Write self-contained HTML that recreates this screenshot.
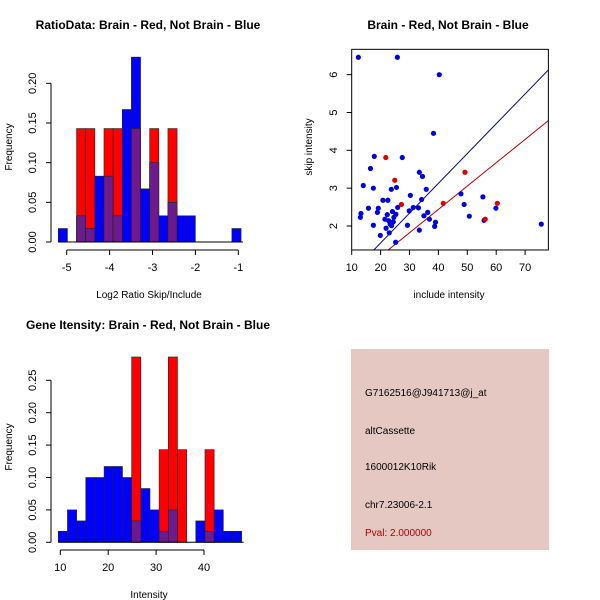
<!DOCTYPE html>
<html><head><meta charset="utf-8"><style>
body{margin:0;background:#fff;}
svg{display:block;font-family:"Liberation Sans",sans-serif;}
</style></head><body>
<svg id="c" width="600" height="600">
<rect width="600" height="600" fill="#fff"/>
<text x="148" y="29" text-anchor="middle" font-size="12" font-weight="bold">RatioData: Brain - Red, Not Brain - Blue</text>
<text x="448" y="29" text-anchor="middle" font-size="12" font-weight="bold">Brain - Red, Not Brain - Blue</text>
<text x="148" y="329" text-anchor="middle" font-size="12" font-weight="bold">Gene Itensity: Brain - Red, Not Brain - Blue</text>
<text x="149" y="298" text-anchor="middle" font-size="10">Log2 Ratio Skip/Include</text>
<text x="149" y="598" text-anchor="middle" font-size="10">Intensity</text>
<text x="449" y="298" text-anchor="middle" font-size="10">include intensity</text>
<text transform="translate(12,147) rotate(-90)" text-anchor="middle" font-size="10">Frequency</text>
<text transform="translate(12,447) rotate(-90)" text-anchor="middle" font-size="10">Frequency</text>
<text transform="translate(312,147) rotate(-90)" text-anchor="middle" font-size="10">skip intensity</text>
<g id="ratio"></g>
<g id="inten"></g>
<g id="scat"></g>
<rect x="351" y="349" width="198" height="201" fill="#e6c8c2"/>
<g font-size="10">
<text x="365" y="396">G7162516@J941713@j_at</text>
<text x="365" y="434">altCassette</text>
<text x="365" y="470">1600012K10Rik</text>
<text x="365" y="508">chr7.23006-2.1</text>
<text x="365" y="536" fill="#b00000">Pval: 2.000000</text>
</g>
</svg>
<script>
// Ratio histogram data
const ratioBreakStart = -5.196, ratioBinWidth = 0.213;
const ratioBlue = [0.017,0,0.033,0.017,0.083,0.083,0.033,0.167,0.233,0.067,0.1,0.033,0.05,0.033,0.033,0,0,0,0,0.017];
const ratioRed  = [0,0,0.143,0.143,0,0.143,0.143,0,0.143,0,0.143,0,0.143,0,0,0,0,0,0,0];
const ratioXTicks = [-5,-4,-3,-2,-1];
const ratioYTicks = [0,0.05,0.10,0.15,0.20];
const ratioYLabels = ["0.00","0.05","0.10","0.15","0.20"];
// Intensity histogram data
const intBreakStart = 9.58, intBinWidth = 1.914;
const intBlue = [0.017,0.05,0.033,0.1,0.1,0.117,0.117,0.1,0.033,0.083,0.05,0.017,0.05,0,0,0.033,0.017,0.05,0.017,0.017];
const intRed  = [0,0,0,0,0,0,0,0,0.286,0,0,0.143,0.286,0.143,0,0,0.143,0,0,0];
const intXTicks = [10,20,30,40];
const intYTicks = [0,0.05,0.10,0.15,0.20,0.25];
const intYLabels = ["0.00","0.05","0.10","0.15","0.20","0.25"];
// Scatter data
const blueX = [12.3,25.8,40.3,38.3,17.8,27.5,16.5,14.0,17.5,23.7,25.5,33.4,34.5,35.8,30.3,20.8,22.5,34.2,15.8,19.2,18.9,13.2,13.0,25.9,31.3,33.1,29.9,24.1,22.3,25.3,35.0,36.3,24.6,21.5,22.8,24.4,23.3,21.9,23.8,23.0,19.9,17.5,29.3,36.9,33.4,25.2,39.0,38.7,47.8,48.9,50.7,55.4,55.8,59.9,75.6];
const blueY = [6.46,6.46,6.0,4.45,3.84,3.81,3.52,3.07,3.0,2.97,3.02,3.42,3.31,2.97,2.81,2.68,2.68,2.70,2.47,2.47,2.36,2.33,2.23,2.49,2.49,2.48,2.40,2.38,2.30,2.31,2.27,2.36,2.23,2.18,2.14,2.11,2.05,1.94,2.01,1.82,1.75,2.02,2.02,2.18,1.89,1.57,2.10,1.99,2.85,2.57,2.26,2.77,2.15,2.47,2.05];
const redX = [21.8,24.9,27.2,41.7,49.2,56.2,60.4];
const redY = [3.81,3.21,2.57,2.60,3.42,2.18,2.60];
const blueLine = [-0.025,0.0788]; // intercept, slope
const redLine = [-0.03,0.0617];
const scatXTicks = [10,20,30,40,50,60,70];
const scatYTicks = [2,3,4,5,6];

const NS="http://www.w3.org/2000/svg";
function mk(parent,tag,attrs){const e=document.createElementNS(NS,tag);for(const k in attrs)e.setAttribute(k,attrs[k]);parent.appendChild(e);return e;}

function hist(g,bs,bw,blue,red,xt,yt,yl,xs,ys,axY,prefix){
  for(let i=0;i<blue.length;i++){
    const x0=xs(bs+i*bw),x1=xs(bs+(i+1)*bw);
    const b=blue[i],r=red[i];
    if(b>0){const e=mk(g,'rect',{x:x0,y:ys(b),width:x1-x0,height:ys(0)-ys(b),fill:'#0000ff',stroke:'#222','stroke-width':0.6});
      
      }
    if(r>0){const e=mk(g,'rect',{x:x0,y:ys(r),width:x1-x0,height:ys(0)-ys(r),fill:'#ff0000',stroke:'#222','stroke-width':0.6});
      
      }
    const m=Math.min(b,r);
    if(m>0){const e=mk(g,'rect',{x:x0,y:ys(m),width:x1-x0,height:ys(0)-ys(m),fill:'#6e1a8c',stroke:'#222','stroke-width':0.6});
      
      }
  }
  const x0=xs(bs),x1=xs(bs+blue.length*bw);
  mk(g,'line',{x1:x0,x2:x1+2,y1:ys(0),y2:ys(0),stroke:'#000'});
  mk(g,'line',{x1:xs(xt[0]),x2:xs(xt[xt.length-1]),y1:axY,y2:axY,stroke:'#000'});
  xt.forEach(v=>{mk(g,'line',{x1:xs(v),x2:xs(v),y1:axY,y2:axY+5,stroke:'#000'});
    const t=mk(g,'text',{x:xs(v),y:axY+21,'text-anchor':'middle','font-size':11});t.textContent=v;});
  mk(g,'line',{x1:51,x2:51,y1:ys(0),y2:ys(yt[yt.length-1]),stroke:'#000'});
  yt.forEach((v,i)=>{mk(g,'line',{x1:46,x2:51,y1:ys(v),y2:ys(v),stroke:'#000'});
    const t=mk(g,'text',{transform:`translate(36,${ys(v)}) rotate(-90)`,'text-anchor':'middle','font-size':11});t.textContent=yl[i];});
}

(function(){
  const g=document.getElementById('ratio');
  const xs=v=>66.7+(v+5)*42.9, ys=v=>242-v*793.4;
  hist(g,ratioBreakStart,ratioBinWidth,ratioBlue,ratioRed,ratioXTicks,ratioYTicks,ratioYLabels,xs,ys,250,'ratio');
})();
(function(){
  const g=document.getElementById('inten');
  const xs=v=>60.3+(v-10)*4.79, ys=v=>542.3-v*648;
  hist(g,intBreakStart,intBinWidth,intBlue,intRed,intXTicks,intYTicks,intYLabels,xs,ys,550,'intensity');
})();
(function(){
  const g=document.getElementById('scat');
  const xs=v=>351.7+(v-10)*2.89, ys=v=>226-(v-2)*37.83;
  const xmin=10,xmax=78.05,ymin=1.366,ymax=6.67;
  const cp=mk(g,'clipPath',{id:'sc'});mk(cp,'rect',{x:xs(xmin),y:ys(ymax),width:xs(xmax)-xs(xmin),height:ys(ymin)-ys(ymax)});
  const lg=mk(g,'g',{'clip-path':'url(#sc)'});
  [[blueLine,'#000080','blue-fit-line'],[redLine,'#b00000','red-fit-line']].forEach(([l,c,n])=>{
    const e=mk(lg,'line',{x1:xs(xmin),y1:ys(l[0]+l[1]*xmin),x2:xs(xmax),y2:ys(l[0]+l[1]*xmax),stroke:c,'stroke-width':1});
    
    
  });
  blueX.forEach((x,i)=>{const e=mk(g,'circle',{cx:xs(x),cy:ys(blueY[i]),r:2.6,fill:'#0000dd'});
    
    });
  redX.forEach((x,i)=>{const e=mk(g,'circle',{cx:xs(x),cy:ys(redY[i]),r:2.6,fill:'#dd0000'});
    
    });
  mk(g,'rect',{x:xs(xmin),y:ys(ymax),width:xs(xmax)-xs(xmin),height:ys(ymin)-ys(ymax),fill:'none',stroke:'#000'});
  const by=ys(ymin);
  scatXTicks.forEach(v=>{mk(g,'line',{x1:xs(v),x2:xs(v),y1:by,y2:by+5,stroke:'#000'});
    const t=mk(g,'text',{x:xs(v),y:by+21,'text-anchor':'middle','font-size':11});t.textContent=v;});
  scatYTicks.forEach(v=>{mk(g,'line',{x1:xs(xmin)-5,x2:xs(xmin),y1:ys(v),y2:ys(v),stroke:'#000'});
    const t=mk(g,'text',{transform:`translate(337,${ys(v)}) rotate(-90)`,'text-anchor':'middle','font-size':11});t.textContent=v;});
})();
</script>
</body></html>
